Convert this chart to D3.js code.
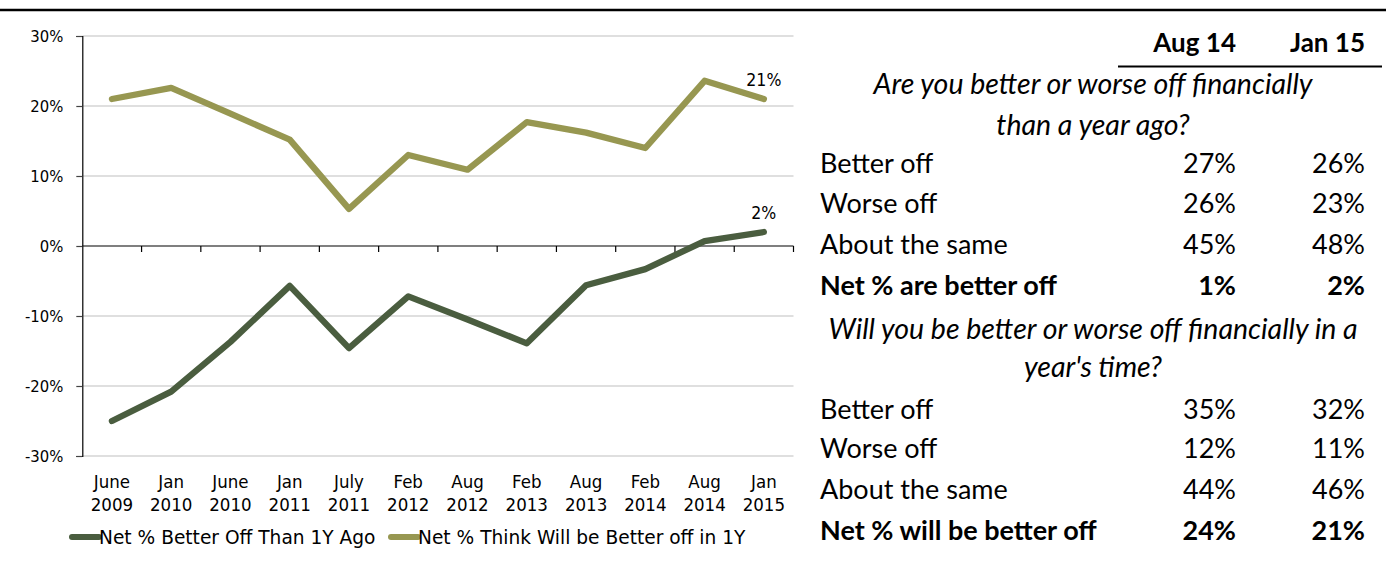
<!DOCTYPE html>
<html>
<head>
<meta charset="utf-8">
<script src="https://cdn.jsdelivr.net/npm/d3@7"></script>
<style>
  html, body { margin: 0; padding: 0; background: #fff; }
  svg { display: block; }
</style>
</head>
<body>
<svg id="chart" width="1386" height="564"></svg>
<script>
// Survey waves on the x axis (two-line labels)
const periods = [
  ["June", "2009"], ["Jan", "2010"], ["June", "2010"], ["Jan", "2011"],
  ["July", "2011"], ["Feb", "2012"], ["Aug", "2012"], ["Feb", "2013"],
  ["Aug", "2013"], ["Feb", "2014"], ["Aug", "2014"], ["Jan", "2015"]
];

// Net % better off than a year ago
const netBetterOff = [-25.0, -20.8, -13.7, -5.7, -14.6, -7.2, -10.5, -13.9, -5.6, -3.3, 0.7, 2];
// Net % expecting to be better off in a year
const netWillBeBetter = [21.0, 22.6, 18.9, 15.2, 5.3, 13.0, 10.9, 17.7, 16.2, 14.0, 23.6, 21];

const yTicks = [-30, -20, -10, 0, 10, 20, 30];

const seriesNames = ["Net % Better Off Than 1Y Ago", "Net % Think Will be Better off in 1Y"];

// Summary table
const tableHeaders = ["Aug 14", "Jan 15"];
const question1 = ["Are you better or worse off financially", "than a year ago?"];
const question2 = ["Will you be better or worse off financially in a", "year's time?"];
const rowLabels1 = ["Better off", "Worse off", "About the same", "Net % are better off"];
const aug14Past = ["27%", "26%", "45%", "1%"];
const jan15Past = ["26%", "23%", "48%", "2%"];
const rowLabels2 = ["Better off", "Worse off", "About the same", "Net % will be better off"];
const aug14Future = ["35%", "12%", "44%", "24%"];
const jan15Future = ["32%", "11%", "46%", "21%"];

const svg = d3.select("#chart");
const W = 1386;

const colPast = "#4a5d3f";
const colFuture = "#979751";
const axisFont = "'DejaVu Sans Condensed', 'DejaVu Sans', sans-serif";
const legendFont = "'DejaVu Sans', sans-serif";
const tableFont = "Lato, 'Open Sans', sans-serif";

// rule across the top
svg.append("line")
  .attr("x1", 0).attr("x2", W).attr("y1", 10).attr("y2", 10)
  .attr("stroke", "#000").attr("stroke-width", 2.5);

// ---------- line chart ----------
const plot = { left: 82.3, right: 793.5, top: 36, bottom: 456 };

const x = d3.scaleBand()
  .domain(d3.range(periods.length))
  .range([plot.left, plot.right]);

const y = d3.scaleLinear().domain([-30, 30]).range([plot.bottom, plot.top]);

const g = svg.append("g");

// horizontal gridlines
g.selectAll("line.grid")
  .data(yTicks.filter(t => t !== 0))
  .join("line")
  .attr("class", "grid")
  .attr("x1", plot.left).attr("x2", plot.right)
  .attr("y1", d => y(d)).attr("y2", d => y(d))
  .attr("stroke", "#d4d4d4").attr("stroke-width", 1.3);

// y axis
const yAxis = d3.axisLeft(y)
  .tickValues(yTicks)
  .tickSize(6)
  .tickPadding(13)
  .tickFormat(d => d + "%");
const yg = g.append("g").attr("transform", `translate(${plot.left},0)`).call(yAxis);
yg.select(".domain").attr("stroke", "#000").attr("stroke-width", 1.2);
yg.selectAll(".tick line").attr("stroke", "#444").attr("stroke-width", 1.2);
yg.selectAll(".tick text")
  .attr("font-family", axisFont).attr("font-size", 16.5).attr("fill", "#000");

// x axis along zero, ticks at band edges
const edges = d3.range(periods.length + 1).map(i => plot.left + i * x.step());
g.append("line")
  .attr("x1", plot.left).attr("x2", plot.right)
  .attr("y1", y(0)).attr("y2", y(0))
  .attr("stroke", "#000").attr("stroke-width", 1.2);
g.selectAll("line.xtick")
  .data(edges.slice(1))
  .join("line")
  .attr("class", "xtick")
  .attr("x1", d => d).attr("x2", d => d)
  .attr("y1", y(0)).attr("y2", y(0) + 6)
  .attr("stroke", "#000").attr("stroke-width", 1.2);

// category labels below plot
const xl = g.selectAll("text.xlab")
  .data(periods)
  .join("text")
  .attr("class", "xlab")
  .attr("x", (d, i) => x(i) + x.bandwidth() / 2)
  .attr("text-anchor", "middle")
  .attr("font-family", axisFont)
  .attr("font-size", 18.5)
  .attr("fill", "#000");
xl.append("tspan").attr("x", (d, i) => x(i) + x.bandwidth() / 2).attr("y", 488).text(d => d[0]);
xl.append("tspan").attr("x", (d, i) => x(i) + x.bandwidth() / 2).attr("y", 511).text(d => d[1]);

// series lines
const line = d3.line()
  .x((d, i) => x(i) + x.bandwidth() / 2)
  .y(d => y(d));

g.append("path")
  .datum(netWillBeBetter)
  .attr("d", line)
  .attr("fill", "none")
  .attr("stroke", colFuture)
  .attr("stroke-width", 6.3)
  .attr("stroke-linejoin", "round")
  .attr("stroke-linecap", "round");

g.append("path")
  .datum(netBetterOff)
  .attr("d", line)
  .attr("fill", "none")
  .attr("stroke", colPast)
  .attr("stroke-width", 6.3)
  .attr("stroke-linejoin", "round")
  .attr("stroke-linecap", "round");

// end-point value labels
const lastIdx = periods.length - 1;
[netWillBeBetter, netBetterOff].forEach(vals => {
  g.append("text")
    .attr("x", x(lastIdx) + x.bandwidth() / 2)
    .attr("y", y(vals[lastIdx]) - 19.5)
    .attr("dominant-baseline", "central")
    .attr("text-anchor", "middle")
    .attr("font-family", axisFont)
    .attr("font-size", 17.5)
    .attr("fill", "#000")
    .text(Math.round(vals[lastIdx]) + "%");
});

// legend
const legend = [
  { name: seriesNames[0], color: colPast, x0: 72 },
  { name: seriesNames[1], color: colFuture, x0: 391 }
];
legend.forEach(l => {
  svg.append("line")
    .attr("x1", l.x0).attr("x2", l.x0 + 27)
    .attr("y1", 537).attr("y2", 537)
    .attr("stroke", l.color).attr("stroke-width", 6)
    .attr("stroke-linecap", "round");
  svg.append("text")
    .attr("x", l.x0 + 27).attr("y", 537)
    .attr("dominant-baseline", "central")
    .attr("font-family", legendFont)
    .attr("font-size", 18.6)
    .attr("fill", "#000")
    .text(l.name);
});

// ---------- summary table ----------
const t = svg.append("g").attr("font-family", tableFont).attr("fill", "#000");
const labelX = 820, col1X = 1236, col2X = 1365, centerX = 1093;
const fs = 27;
const fsItalic = 28.5;

tableHeaders.forEach((h, i) => {
  t.append("text")
    .attr("x", i === 0 ? col1X : col2X).attr("y", 42)
    .attr("dominant-baseline", "central")
    .attr("text-anchor", "end")
    .attr("font-weight", "bold")
    .attr("font-size", 26)
    .text(h);
});
t.append("line")
  .attr("x1", 1118).attr("x2", 1382).attr("y1", 66.5).attr("y2", 66.5)
  .attr("stroke", "#000").attr("stroke-width", 1.8);

function question(lines, ys) {
  lines.forEach((s, i) => {
    t.append("text")
      .attr("x", centerX).attr("y", ys[i])
      .attr("dominant-baseline", "central")
      .attr("text-anchor", "middle")
      .attr("font-style", "italic")
      .attr("font-size", fsItalic)
      .text(s);
  });
}

function rows(labels, c1, c2, ys) {
  labels.forEach((lab, i) => {
    const bold = i === labels.length - 1 ? "bold" : "normal";
    t.append("text").attr("x", labelX).attr("y", ys[i])
      .attr("dominant-baseline", "central").attr("font-size", fs)
      .attr("font-weight", bold).text(lab);
    t.append("text").attr("x", col1X).attr("y", ys[i])
      .attr("dominant-baseline", "central").attr("text-anchor", "end")
      .attr("font-size", fs).attr("font-weight", bold).text(c1[i]);
    t.append("text").attr("x", col2X).attr("y", ys[i])
      .attr("dominant-baseline", "central").attr("text-anchor", "end")
      .attr("font-size", fs).attr("font-weight", bold).text(c2[i]);
  });
}

question(question1, [83, 124]);
rows(rowLabels1, aug14Past, jan15Past, [162, 202, 243, 284]);
question(question2, [328, 366]);
rows(rowLabels2, aug14Future, jan15Future, [408, 447, 488, 529]);
</script>
</body>
</html>
